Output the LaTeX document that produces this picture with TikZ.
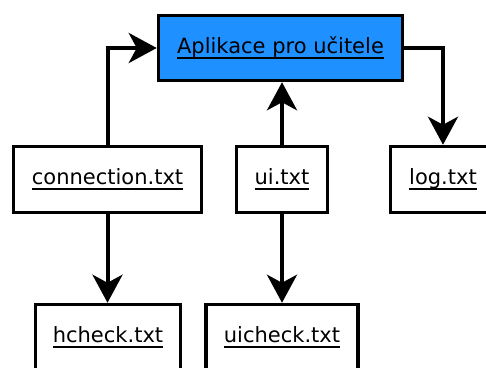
\documentclass[tikz,border=0pt]{standalone}
\usepackage{fontspec}
\setmainfont{DejaVu Sans}
\usetikzlibrary{arrows.meta}
\newcommand{\ulfile}[1]{\setbox0\hbox{#1}\rlap{\rule[-5pt]{\wd0}{2.2pt}}\box0}
\tikzset{
  filebox/.style={draw, line width=3.5pt, inner sep=0pt, minimum height=66pt,
    font=\fontsize{21}{25}\selectfont},
  appbox/.style={filebox, fill=appblue, minimum height=65pt}
}
\definecolor{appblue}{RGB}{30,144,255}
\begin{document}
\begin{tikzpicture}[x=1pt, y=-1pt, >={Stealth[length=28pt, width=30pt, inset=8pt]}, line width=4pt]
        \useasboundingbox (0,0) rectangle (486,367);
        \clip (0,0) rectangle (486,367);
        \node[appbox, minimum width=244pt] (app) at (280.5,48) {\ulfile{Aplikace pro učitele}};
        \node[filebox, minimum width=188pt] (conn) at (107.5,179.5) {\ulfile{connection.txt}};
        \node[filebox, minimum width=91pt] (ui) at (282,179.5) {\ulfile{ui.txt}};
        \node[filebox, minimum width=105pt] (log) at (443,179.5) {\ulfile{log.txt}};
        \node[filebox, minimum width=145pt] (hcheck) at (108,337.5) {\ulfile{hcheck.txt}};
        \node[filebox, minimum width=152pt] (uicheck) at (282,337.5) {\ulfile{uicheck.txt}};
        \draw[->] (conn.north) |- (app.west);
        \draw[->] (ui.north) -- (ui.north |- app.south);
        \draw[->] (app.east) -| (log.north);
        \draw[->] (conn.south) -- (conn.south |- hcheck.north);
        \draw[->] (ui.south) -- (ui.south |- uicheck.north);
    \end{tikzpicture}
\end{document}
